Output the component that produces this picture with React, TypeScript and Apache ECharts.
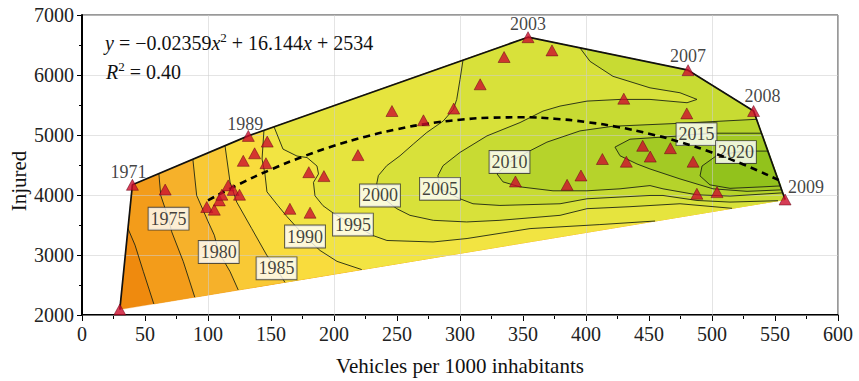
import React, { useEffect, useRef } from 'react';
import * as echarts from 'echarts';

// ---- data ----
const vehicles = [30, 40, 66, 99, 105, 109, 111, 116, 120, 125, 128, 132, 137, 146, 147, 165, 181, 180, 192, 219, 246, 271, 295, 316, 335, 354, 373, 344, 385, 396, 413, 430, 432, 445, 451, 467, 480, 481, 485, 488, 504, 533, 558];
const injured = [2090, 4170, 4090, 3800, 3755, 3910, 4005, 4160, 4085, 4005, 4570, 4985, 4695, 4530, 4890, 3770, 3705, 4380, 4315, 4665, 5400, 5245, 5440, 5845, 6300, 6630, 6410, 4225, 4170, 4325, 4600, 5605, 4555, 4820, 4640, 4780, 5360, 6080, 4555, 4020, 4048, 5400, 3925];
const pointYears = ['', '1971', '', '', '', '', '', '', '', '', '', '1989', '', '', '', '', '', '', '', '', '', '', '', '', '', '2003', '', '', '', '', '', '', '', '', '', '', '', '2007', '', '', '', '2008', '2009'];

// convex hull vertices (vehicles, injured)
const hullX = [30, 40, 132, 354, 481, 533, 558];
const hullY = [2090, 4170, 4985, 6630, 6080, 5400, 3925];

// contour lines (year levels)
const contourLevels = ['1970', '1975', '1980', '1985', '1990', '1995', '2000', '2005', '2010', '2015', '2020'];
const contour1970 = [[36.5, 3440], [42.1, 3164], [48.7, 2723], [57, 2184]];
const contour1975 = [[61, 4356], [62.5, 3992], [68.7, 3606], [71.2, 3386], [80.4, 2889], [89.5, 2297]];
const contour1980 = [[88, 4595], [91, 3992], [100.2, 3551], [105, 3330], [108.5, 3050], [117.5, 2723], [124, 2417]];
const contour1985 = [[113.5, 4821], [117.5, 4214], [122.8, 3882], [134.7, 3440], [146.6, 2998], [154.4, 2778], [161, 2545]];
const contour1990 = [[144.4, 5077], [142.9, 4599], [145.2, 4351], [146.8, 4053], [155.6, 3821], [162.7, 3639], [177, 3308], [188.9, 3076], [202.4, 2894], [222, 2757]];
const contour1995 = [[152.4, 5137], [159.5, 4765], [170.6, 4649], [178.6, 4624], [186.5, 4483], [187.7, 4351], [183.7, 4210], [184.9, 3987], [191.3, 3821], [200, 3689], [215, 3507], [231, 3324], [242, 3242], [278.6, 3217], [305.6, 3275], [355.6, 3440], [411, 3507], [454.8, 3566]];
const contour2000 = [[302.4, 6250], [300, 5924], [297.4, 5593], [294.7, 5427], [286.7, 5233], [273.6, 5041], [262.9, 4848], [252.4, 4654], [241.8, 4488], [235.2, 4323], [233.9, 4185], [236.5, 3992], [249.8, 3772], [260.3, 3661], [278.8, 3578], [305.3, 3551], [331.7, 3578], [379.4, 3661], [400.8, 3772], [434.9, 3805], [474.6, 3854], [515.9, 3778]];
const contour2005 = [[395.2, 6452], [403.2, 6227], [421.4, 5978], [450.8, 5786], [474.6, 5704], [488.1, 5593], [480.2, 5538], [450.8, 5593], [427, 5593], [400.8, 5565], [379.4, 5482], [365.9, 5399], [347.6, 5207], [321.4, 4985], [300, 4710], [286.5, 4488], [282.5, 4323], [284.1, 4103], [300, 3937], [310.3, 3854], [331.7, 3826], [379.4, 3854], [400.8, 3937], [450.8, 3992], [461.1, 3992], [488.1, 3909], [514.3, 3882], [552.4, 3905]];
const contour2010 = [[535.7, 5262], [474.6, 5195], [421.4, 5146], [395.2, 5068], [369, 4881], [355.6, 4737], [339.3, 4550], [329.4, 4351], [334.1, 4219], [347.6, 4136], [373.8, 4070], [400.8, 4070], [427, 4103], [450.8, 4157], [461.1, 4103], [488.1, 4003], [514.3, 3982], [556.3, 4036]];
const contour2015 = [[539.7, 5030], [503.9, 5030], [487.7, 5013], [471.4, 4980], [434.9, 4930], [423, 4798], [427, 4654], [440.5, 4517], [450.8, 4434], [474.6, 4268], [500.8, 4103], [527.8, 4061], [555.6, 4086]];
const contour2020 = [[544.5, 4732], [534.9, 4732], [519, 4715], [503.2, 4649], [492.1, 4483], [490.5, 4318], [498.4, 4169], [514.3, 4111], [540.5, 4136], [554.8, 4152]];

// contour label positions
const contourLabelText = ['1975', '1980', '1985', '1990', '1995', '2000', '2005', '2010', '2015', '2020'];
const contourLabelX = [68.7, 108.5, 154.4, 177, 215, 236.5, 284.1, 339.3, 487.7, 519];
const contourLabelY = [3606, 3050, 2778, 3308, 3507, 3992, 4103, 4550, 5013, 4715];

// fitted quadratic trend
const fitX = [100, 125, 150, 175, 200, 225, 250, 275, 300, 325, 350, 375, 400, 425, 450, 475, 500, 525, 553];
const fitY = [3912, 4183, 4425, 4637, 4819, 4972, 5096, 5190, 5254, 5289, 5295, 5271, 5217, 5134, 5022, 4880, 4708, 4508, 4248];

// ---- styling ----
const FONT = 'Liberation Serif';
const baseFill = '#ef8a0e';
const bandFills = ['#f39c1a', '#f6b12a', '#f9c935', '#f9dc3d', '#f2e442', '#e6e43e', '#d8e13a', '#c8db33', '#b6d32b', '#a3ca24', '#92c21c'];
const closeFrom = [1, 2, 2, 2, 3, 3, 3, 4, 7, 7, 7];
const gridColor = 'rgba(205,205,205,0.55)';
const labelOffsets: Record<string, number[]> = {
  '1971': [-4, -13],
  '1989': [-3, -12],
  '2003': [0, -13],
  '2007': [0, -14],
  '2008': [9, -15],
  '2009': [21, -13],
};

export default function App() {
  const ref = useRef<HTMLDivElement>(null);
  useEffect(() => {
    document.body.style.margin = '0';
    if (!ref.current) return;
    const chart = echarts.init(ref.current, undefined, { renderer: 'svg' });

    const contours = [contour1970, contour1975, contour1980, contour1985, contour1990, contour1995, contour2000, contour2005, contour2010, contour2015, contour2020];
    const hullPts = hullX.map((x, i) => [x, hullY[i]]);
    const polys: { pts: number[][]; fill: string }[] = [{ pts: hullPts, fill: baseFill }];
    contours.forEach((c, i) => {
      const pts = c.map((p) => [p[0], p[1]]);
      for (let k = hullX.length - 1; k >= closeFrom[i]; k--) pts.push([hullX[k], hullY[k]]);
      polys.push({ pts, fill: bandFills[i] });
    });

    const series: any[] = [];
    series.push({
      type: 'custom',
      silent: true,
      z: 1,
      data: polys.map((p) => p.pts[0]),
      renderItem: (params: any, api: any) => {
        const p = polys[params.dataIndex];
        return {
          type: 'polygon',
          shape: { points: p.pts.map((q) => api.coord(q)) },
          style: { fill: p.fill, stroke: p.fill, lineWidth: 0.3 },
        };
      },
    });
    contours.forEach((c, i) => {
      series.push({
        type: 'line',
        name: 'c' + contourLevels[i],
        data: c,
        symbol: 'none',
        silent: true,
        z: 3,
        lineStyle: { color: '#1e2614', width: 0.9 },
      });
    });
    series.push({
      type: 'line',
      data: hullPts,
      symbol: 'none',
      silent: true,
      z: 3,
      lineStyle: { color: '#111', width: 1.7 },
    });
    series.push({
      type: 'scatter',
      data: contourLabelX.map((x, i) => ({ value: [x, contourLabelY[i]], name: contourLabelText[i] })),
      symbol: 'rect',
      symbolSize: 1,
      itemStyle: { color: 'rgba(0,0,0,0)' },
      silent: true,
      z: 4,
      label: {
        show: true,
        position: 'inside',
        formatter: (p: any) => p.name,
        fontFamily: FONT,
        fontSize: 18,
        lineHeight: 19,
        color: '#111',
        backgroundColor: '#ffffff',
        borderColor: '#333',
        borderWidth: 0.9,
        padding: [2, 2, 1, 2],
      },
    });
    series.push({
      type: 'line',
      data: fitX.map((x, i) => [x, fitY[i]]),
      symbol: 'none',
      smooth: true,
      silent: true,
      z: 5,
      lineStyle: { color: '#000', width: 2.6, type: [7, 5] },
    });
    series.push({
      type: 'scatter',
      symbol: 'triangle',
      symbolSize: [12, 11],
      z: 6,
      itemStyle: { color: '#cc0c2c', borderColor: '#5e0010', borderWidth: 0.6 },
      data: vehicles.map((x, i) => {
        const yr = pointYears[i];
        const d: any = { value: [x, injured[i]] };
        if (yr) {
          d.label = {
            show: true,
            position: 'inside',
            offset: labelOffsets[yr],
            formatter: yr,
            fontFamily: FONT,
            fontSize: 18,
            color: '#111',
          };
        }
        return d;
      }),
    });

    chart.setOption({
      animation: false,
      grid: { left: 82, right: 21, top: 15, bottom: 64, show: true, borderColor: '#333', borderWidth: 1, backgroundColor: 'transparent' },
      xAxis: [
        {
          type: 'value',
          min: 0,
          max: 600,
          interval: 50,
          name: 'Vehicles per 1000 inhabitants',
          nameLocation: 'middle',
          nameGap: 40,
          nameTextStyle: { fontFamily: FONT, fontSize: 21, color: '#111' },
          axisLine: { show: true, lineStyle: { color: '#000', width: 2 } },
          axisTick: { show: true, length: 6, lineStyle: { color: '#000' } },
          minorTick: { show: true, splitNumber: 2, length: 4, lineStyle: { color: '#000' } },
          axisLabel: { fontFamily: FONT, fontSize: 20, color: '#222', margin: 9, formatter: (v: number) => String(v) },
          splitLine: { show: false },
        },
        {
          type: 'value',
          min: 0,
          max: 600,
          interval: 100,
          position: 'bottom',
          z: 2,
          axisLine: { show: false },
          axisTick: { show: false },
          axisLabel: { show: false },
          splitLine: { show: true, lineStyle: { color: gridColor, width: 1 } },
        },
      ],
      yAxis: {
        type: 'value',
        min: 2000,
        max: 7000,
        interval: 1000,
        z: 2,
        axisLine: { show: true, lineStyle: { color: '#000', width: 2 } },
        axisTick: { show: true, length: 5, lineStyle: { color: '#000' } },
        minorTick: { show: true, splitNumber: 2, length: 3, lineStyle: { color: '#000' } },
        axisLabel: { fontFamily: FONT, fontSize: 20, color: '#222', margin: 8, formatter: (v: number) => String(v) },
        splitLine: { show: true, lineStyle: { color: gridColor, width: 1 } },
      },
      graphic: [
        {
          type: 'text',
          left: 105,
          top: 31,
          z: 10,
          style: {
            text: '{i|y} = \u22120.02359{i|x}{s|2} + 16.144{i|x} + 2534',
            fontFamily: FONT,
            fontSize: 20,
            fill: '#111',
            lineHeight: 24,
            rich: {
              i: { fontStyle: 'italic', fontFamily: FONT, fontSize: 20, fill: '#111', lineHeight: 24 },
              s: { fontFamily: FONT, fontSize: 13, fill: '#111', verticalAlign: 'top', lineHeight: 14 },
            },
          },
        },
        {
          type: 'text',
          left: 106,
          top: 60,
          z: 10,
          style: {
            text: '{i|R}{s|2} = 0.40',
            fontFamily: FONT,
            fontSize: 20,
            fill: '#111',
            lineHeight: 24,
            rich: {
              i: { fontStyle: 'italic', fontFamily: FONT, fontSize: 20, fill: '#111', lineHeight: 24 },
              s: { fontFamily: FONT, fontSize: 13, fill: '#111', verticalAlign: 'top', lineHeight: 14 },
            },
          },
        },
        {
          type: 'text',
          x: 19,
          y: 181,
          rotation: Math.PI / 2,
          style: { text: 'Injured', fontFamily: FONT, fontSize: 21, fill: '#111', align: 'center', verticalAlign: 'middle' },
        },
      ],
      series,
    });
    return () => chart.dispose();
  }, []);
  return <div ref={ref} style={{ width: 859, height: 381 }} />;
}
